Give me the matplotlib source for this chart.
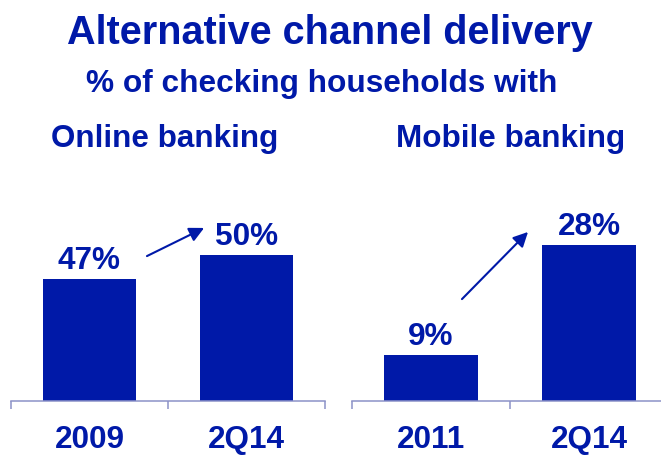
import matplotlib
matplotlib.use("Agg")
import matplotlib.pyplot as plt

# share of checking households using each channel
online_labels = ["2009", "2Q14"]
online_values = [47, 50]
mobile_labels = ["2011", "2Q14"]
mobile_values = [9, 28]

blue = "#0019A8"
axis_grey = "#8C92C8"

plt.rcParams["font.family"] = ["Liberation Sans", "DejaVu Sans"]
plt.rcParams["font.weight"] = "bold"

fig = plt.figure(figsize=(6.61, 4.55), dpi=100)

fig.text(0.499, 0.9033, "Alternative channel delivery", ha="center", va="baseline",
         fontsize=28.5, fontweight="bold", color=blue)
fig.text(0.486, 0.7978, "% of checking households with", ha="center", va="baseline",
         fontsize=22.8, fontweight="bold", color=blue)
fig.text(0.249, 0.6769, "Online banking", ha="center", va="baseline",
         fontsize=22.6, fontweight="bold", color=blue)
fig.text(0.772, 0.6769, "Mobile banking", ha="center", va="baseline",
         fontsize=22.6, fontweight="bold", color=blue)


def bar_panel(rect, labels, values, ylim, arrow_from, arrow_to):
    ax = fig.add_axes(rect)
    x = range(len(values))
    bars = ax.bar(x, values, width=0.59, color=blue, zorder=2)
    ax.set_xlim(-0.5, len(values) - 0.5)
    ax.set_ylim(*ylim)

    for b, v in zip(bars, values):
        ax.annotate(f"{v}%", (b.get_x() + b.get_width() / 2, v),
                    xytext=(0, 7.5), textcoords="offset points",
                    ha="center", va="baseline", fontsize=22.7,
                    fontweight="bold", color=blue)

    ax.annotate("", xy=arrow_to, xytext=arrow_from,
                xycoords="axes fraction", textcoords="axes fraction",
                arrowprops=dict(arrowstyle="-|>", color=blue, lw=1.5,
                                mutation_scale=22, shrinkA=0, shrinkB=0))

    for side in ["top", "right", "left"]:
        ax.spines[side].set_visible(False)
    ax.spines["bottom"].set_color(axis_grey)
    ax.spines["bottom"].set_linewidth(1.1)

    ax.set_yticks([])
    ax.set_xticks(list(x))
    ax.set_xticklabels(labels, fontsize=22.7, fontweight="bold", color=blue)
    ax.tick_params(axis="x", which="major", length=0, pad=17)
    ax.set_xticks([i - 0.5 for i in range(len(values) + 1)], minor=True)
    ax.tick_params(axis="x", which="minor", length=6, width=1.1,
                   color=axis_grey, direction="out")
    ax.patch.set_visible(False)
    return ax


bar_panel([11 / 661, 54 / 455, 314 / 661, 201 / 455], online_labels, online_values,
          (31.75, 56.9), (0.433, 0.721), (0.615, 0.861))
bar_panel([352 / 661, 54 / 455, 316 / 661, 201 / 455], mobile_labels, mobile_values,
          (1.05, 35.8), (0.348, 0.507), (0.557, 0.841))

fig.savefig("out.png", dpi=100)
